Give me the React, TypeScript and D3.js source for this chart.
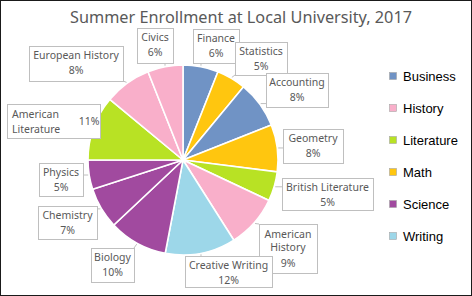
import * as d3 from 'd3';
import React from 'react';

// slices, clockwise from 12 o'clock
const subjects = [
  'Finance', 'Statistics', 'Accounting', 'Geometry', 'British Literature',
  'American History', 'Creative Writing', 'Biology', 'Chemistry', 'Physics',
  'American Literature', 'European History', 'Civics',
];
const groups = [
  'Business', 'Math', 'Business', 'Math', 'Literature', 'History', 'Writing',
  'Science', 'Science', 'Science', 'Literature', 'History', 'History',
];
const shares = [6, 5, 8, 8, 5, 9, 12, 10, 7, 5, 11, 8, 6];

const categories = ['Business', 'History', 'Literature', 'Math', 'Science', 'Writing'];
const palette = ['#7093c5', '#f9afca', '#b8e224', '#ffc60f', '#a14a9f', '#9dd7e9'];

const title = 'Summer Enrollment at Local University, 2017';

// label box layout [x, y, w, h], same order as subjects
const boxes = [
  [193, 29, 46, 34],
  [235, 42, 52, 33],
  [266, 73, 62, 34],
  [283, 129, 60, 34],
  [282, 178, 91, 32],
  [259, 224, 58, 49],
  [185, 256, 87, 31],
  [91, 248, 43, 34],
  [38, 206, 59, 33],
  [39, 163, 44, 33],
  [7, 104, 93, 34],
  [29, 46, 94, 35],
  [137, 28, 36, 35],
];

const width = 472;
const height = 296;
const cx = 183;
const cy = 160;
const radius = 95;

const color = d3.scaleOrdinal<string, string>().domain(categories).range(palette);

export default function App() {
  const pie = d3.pie<number>().sort(null).startAngle(0).endAngle(2 * Math.PI);
  const arcs = pie(shares);
  const arc = d3.arc<d3.PieArcDatum<number>>().innerRadius(0).outerRadius(radius);
  const legendY = d3.scalePoint<string>().domain(categories).range([76, 236]);
  const font = '"Noto Sans", sans-serif';

  return (
    <svg width={width} height={height} style={{ position: 'fixed', left: 0, top: 0 }}>
      <rect x={0.5} y={0.5} width={width - 1} height={height - 1} fill="#fff" stroke="#1a1a1a" />
      <text x={241} y={23} textAnchor="middle" fontFamily={font} fontSize={17} fill="#595959"
        textLength={342} lengthAdjust="spacingAndGlyphs">{title}</text>

      <g transform={`translate(${cx},${cy})`}>
        {arcs.map((a, i) => (
          <path key={i} d={arc(a) || ''} fill={color(groups[i])} stroke="#fff" strokeWidth={1.6} />
        ))}
      </g>

      {arcs.map((a, i) => {
        const [bx, by, bw, bh] = boxes[i];
        const mid = (a.startAngle + a.endAngle) / 2;
        const px = cx + (radius + 1) * Math.sin(mid);
        const py = cy - (radius + 1) * Math.cos(mid);
        const nx = Math.max(bx, Math.min(bx + bw, px));
        const ny = Math.max(by, Math.min(by + bh, py));
        const name = subjects[i];
        const pct = `${shares[i]}%`;
        let content;
        if (name === 'American Literature') {
          content = (
            <g>
              <text x={bx + 5} y={by + 14}>American</text>
              <text x={bx + 5} y={by + 29}>Literature</text>
              <text x={bx + 82} y={by + 21} textAnchor="middle">{pct}</text>
            </g>
          );
        } else if (name === 'American History') {
          content = (
            <g textAnchor="middle">
              <text x={bx + bw / 2} y={by + 14}>American</text>
              <text x={bx + bw / 2} y={by + 27}>History</text>
              <text x={bx + bw / 2} y={by + 43}>{pct}</text>
            </g>
          );
        } else {
          content = (
            <g textAnchor="middle">
              <text x={bx + bw / 2} y={by + 13}>{name}</text>
              <text x={bx + bw / 2} y={by + 28}>{pct}</text>
            </g>
          );
        }
        return (
          <g key={i} fontFamily={font} fontSize={10.5} fill="#595959">
            <line x1={nx} y1={ny} x2={px} y2={py} stroke="#bfbfbf" />
            <rect x={bx + 0.5} y={by + 0.5} width={bw} height={bh} fill="#fff" stroke="#bfbfbf" />
            {content}
          </g>
        );
      })}

      {categories.map((c) => (
        <g key={c} transform={`translate(389,${legendY(c)})`}>
          <rect x={0.5} y={-3.5} width={7} height={7} fill={color(c)} stroke="#a6a6a6" strokeWidth={0.6} />
          <text x={14} y={4.5} fontFamily='"Liberation Sans", Arial, sans-serif' fontSize={13} fill="#000">{c}</text>
        </g>
      ))}
    </svg>
  );
}
